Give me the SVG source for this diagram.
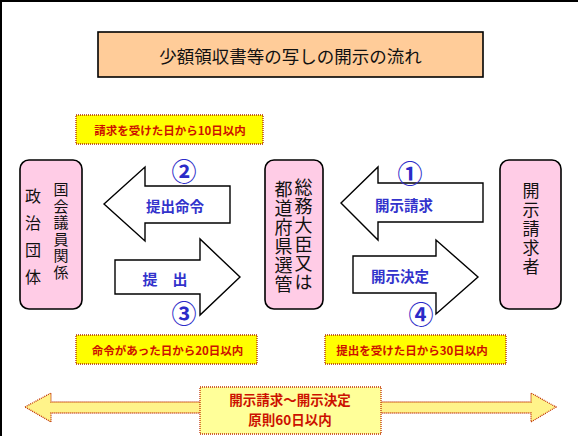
<svg xmlns="http://www.w3.org/2000/svg" width="578" height="436" viewBox="0 0 578 436">
<style>
.jp{font-family:"Noto Sans CJK JP","Noto Sans",sans-serif}
.node{fill:#FFCCE6;stroke:#000;stroke-width:1.6}
.vt{fill:#111;writing-mode:vertical-rl;text-orientation:upright}
.arr{fill:#fff;stroke:#000;stroke-width:1.4;stroke-linejoin:miter}
.alab{font-size:14.5px;font-weight:bold;fill:#3333CC;text-anchor:middle;dominant-baseline:central}
.num{font-size:25px;font-weight:bold;fill:#2B2BC8;text-anchor:middle;dominant-baseline:central}
.ybox{fill:#FFFF00;stroke:#B02A00;stroke-width:1.3;stroke-dasharray:1 1}
.ytxt{font-size:11.5px;font-weight:bold;fill:#CC1100;text-anchor:middle;dominant-baseline:central}
.ptxt{font-size:13.5px;font-weight:bold;fill:#CC1100;text-anchor:middle;dominant-baseline:central}
</style>
<rect x="0" y="0" width="578" height="436" fill="#fff"/>
<path d="M1,436 V1 H578" fill="none" stroke="#000" stroke-width="2"/>

<g id="title">
<rect x="98" y="32" width="385" height="45" fill="#FFCC99" stroke="#000" stroke-width="1.6"/>
<text class="jp" x="290.5" y="55.5" font-size="17.5" fill="#111" text-anchor="middle" dominant-baseline="central">少額領収書等の写しの開示の流れ</text>
</g>

<g id="note1">
<rect class="ybox" x="76" y="115" width="187" height="29"/>
<text class="jp ytxt" x="170" y="130">請求を受けた日から10日以内</text>
</g>
<g id="note2">
<rect class="ybox" x="76" y="335" width="181" height="29"/>
<text class="jp ytxt" x="167.5" y="350">命令があった日から20日以内</text>
</g>
<g id="note3">
<rect class="ybox" x="325" y="335" width="181" height="29"/>
<text class="jp ytxt" x="412" y="350">提出を受けた日から30日以内</text>
</g>

<g id="node-party">
<rect class="node" x="20" y="160" width="62" height="149" rx="9"/>
<text class="jp vt" x="61" y="182" style="font-size:15px;letter-spacing:1.5px">国会議員関係</text>
<text class="jp vt" x="33" y="188" style="font-size:16px;letter-spacing:11px">政治団体</text>
</g>

<g id="node-ministry">
<rect class="node" x="265" y="160" width="58" height="149" rx="9"/>
<text class="jp vt" x="303.5" y="178" style="font-size:18px;letter-spacing:1px">総務大臣又は</text>
<text class="jp vt" x="283.5" y="180" style="font-size:18px;letter-spacing:1px">都道府県選管</text>
</g>

<g id="node-requester">
<rect class="node" x="500" y="160" width="61" height="149" rx="9"/>
<text class="jp vt" x="531" y="182" style="font-size:17px;letter-spacing:2px">開示請求者</text>
</g>

<g id="connectors">
<g id="arrow1">
<polygon class="arr" points="341,203 378,167 378,183 483,183 483,222 378,222 378,240"/>
<text class="jp alab" x="404" y="204">開示請求</text>
<text class="jp num" x="410" y="172">①</text>
</g>
<g id="arrow2">
<polygon class="arr" points="104,204 145,167 145,186 230,186 230,223 145,223 145,241"/>
<text class="jp alab" x="175" y="205">提出命令</text>
<text class="jp num" x="184" y="170">②</text>
</g>
<g id="arrow3">
<polygon class="arr" points="115,260 200,260 200,239 240,277 200,315 200,294 115,294"/>
<text class="jp alab" x="165" y="278" style="font-size:15px">提　出</text>
<text class="jp num" x="184" y="312">③</text>
</g>
<g id="arrow4">
<polygon class="arr" points="353,256 436,256 436,240 478,277 436,314 436,293 353,293"/>
<text class="jp alab" x="400" y="275">開示決定</text>
<text class="jp num" x="421" y="313">④</text>
</g>
</g>

<g id="period">
<polygon points="25,407 51,393 51,402 531,402 531,393 556,407 531,422 531,413 51,413 51,422" fill="#FFF38A" stroke="#C03000" stroke-width="1.3" stroke-dasharray="1 1"/>
<rect x="200" y="387" width="181" height="47" fill="#FFFF99" stroke="#C03000" stroke-width="1.3" stroke-dasharray="1 1"/>
<text class="jp ptxt" x="290" y="398.5">開示請求～開示決定</text>
<text class="jp ptxt" x="290" y="418.5">原則60日以内</text>
</g>
</svg>
